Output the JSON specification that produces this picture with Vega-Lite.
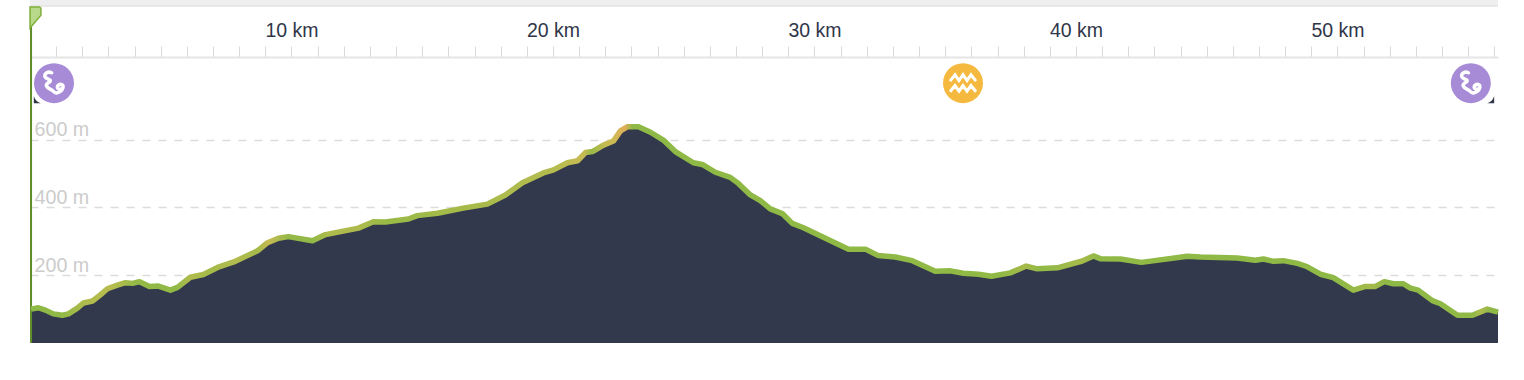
{
"$schema":"https://vega.github.io/schema/vega-lite/v6.json",
"width":1468,"height":343,
"autosize":"none",
"padding":{"left":30,"top":0,"right":26,"bottom":37},
"background":"white",
"config":{"view":{"stroke":null},"font":"Liberation Sans"},
"datasets":{
"profile":[
{"km":0.04,"el":100},{"km":0.32,"el":104},{"km":0.59,"el":97},{"km":0.89,"el":86},{"km":1.24,"el":82},{"km":1.47,"el":86},{"km":1.81,"el":103},{"km":2.04,"el":118},{"km":2.39,"el":124},{"km":2.69,"el":142},{"km":2.96,"el":160},{"km":3.34,"el":171},{"km":3.65,"el":178},{"km":3.92,"el":176},{"km":4.19,"el":181},{"km":4.57,"el":167},{"km":4.91,"el":168},{"km":5.37,"el":156},{"km":5.64,"el":164},{"km":6.13,"el":194},{"km":6.63,"el":202},{"km":7.17,"el":223},{"km":7.85,"el":241},{"km":8.7,"el":272},{"km":9.08,"el":296},{"km":9.5,"el":309},{"km":9.88,"el":314},{"km":10.8,"el":302},{"km":11.3,"el":320},{"km":12.56,"el":339},{"km":13.13,"el":358},{"km":13.59,"el":357},{"km":14.47,"el":366},{"km":14.81,"el":376},{"km":15.58,"el":383},{"km":16.57,"el":398},{"km":17.49,"el":410},{"km":18.18,"el":437},{"km":18.83,"el":473},{"km":19.63,"el":502},{"km":20.02,"el":511},{"km":20.55,"el":532},{"km":20.94,"el":538},{"km":21.24,"el":562},{"km":21.51,"el":565},{"km":21.93,"el":584},{"km":22.31,"el":596},{"km":22.58,"el":626},{"km":22.84,"el":638},{"km":23.27,"el":638},{"km":23.73,"el":622},{"km":24.22,"el":599},{"km":24.68,"el":565},{"km":25.37,"el":532},{"km":25.71,"el":527},{"km":26.21,"el":504},{"km":26.78,"el":489},{"km":27.09,"el":471},{"km":27.55,"el":437},{"km":27.93,"el":420},{"km":28.31,"el":396},{"km":28.77,"el":382},{"km":29.15,"el":353},{"km":29.58,"el":340},{"km":31.3,"el":277},{"km":31.95,"el":277},{"km":32.44,"el":258},{"km":33.09,"el":254},{"km":33.74,"el":243},{"km":34.62,"el":212},{"km":35.2,"el":213},{"km":35.69,"el":206},{"km":36.27,"el":203},{"km":36.77,"el":197},{"km":37.49,"el":207},{"km":38.1,"el":227},{"km":38.52,"el":219},{"km":39.29,"el":222},{"km":40.24,"el":242},{"km":40.67,"el":257},{"km":40.93,"el":249},{"km":41.7,"el":248},{"km":42.5,"el":238},{"km":44.26,"el":256},{"km":44.76,"el":254},{"km":46.17,"el":251},{"km":46.86,"el":244},{"km":47.17,"el":248},{"km":47.55,"el":241},{"km":47.93,"el":243},{"km":48.47,"el":235},{"km":48.85,"el":225},{"km":49.35,"el":203},{"km":49.84,"el":193},{"km":50.61,"el":156},{"km":51.07,"el":167},{"km":51.45,"el":167},{"km":51.79,"el":181},{"km":52.14,"el":175},{"km":52.52,"el":175},{"km":52.79,"el":162},{"km":53.09,"el":156},{"km":53.63,"el":125},{"km":53.94,"el":116},{"km":54.59,"el":82},{"km":55.16,"el":82},{"km":55.73,"el":100},{"km":56.14,"el":91}
],
"icons":[{"km":0.918,"el":767,"kind":"road"},{"km":35.68,"el":767,"kind":"water"},{"km":55.1,"el":767,"kind":"road"}]
},
"data":{"name":"profile"},
"layer":[
{"data":{"values":[{"km":0,"km2":56.14,"el":998.5,"el2":1012.4}]},"mark":{"type":"rect","color":"#efefef"},
 "encoding":{"x":{"field":"km","type":"quantitative","scale":{"domain":[0,56.14],"nice":false,"zero":false},
   "axis":{"orient":"top","offset":-57,"title":null,"tickCount":60,"values":[1,2,3,4,5,6,7,8,9,10,11,12,13,14,15,16,17,18,19,20,21,22,23,24,25,26,27,28,29,30,31,32,33,34,35,36,37,38,39,40,41,42,43,44,45,46,47,48,49,50,51,52,53,54,55,56],
   "labelExpr":"datum.value % 10 == 0 ? datum.value + ' km' : ''","labelFont":"Liberation Sans","labelFontSize":19.5,"labelColor":"#2f3649","labelBaseline":"alphabetic","labelPadding":10,"labelFlush":false,"labelOverlap":false,"labelBound":false,"tickSize":11,"tickColor":"#d9d9d9","tickWidth":1,"domainColor":"#e5e5e5","domainWidth":2,"grid":false}},
  "x2":{"field":"km2"},
  "y":{"field":"el","type":"quantitative","scale":{"domain":[0,1012.4],"nice":false,"zero":true},
   "axis":{"orient":"left","title":null,"values":[200,400,600],"labelExpr":"datum.value + ' m'","domain":false,"ticks":false,"tickSize":0,"labelAlign":"left","labelBaseline":"alphabetic","labelPadding":-4,"labelOffset":-4,"labelFont":"Liberation Sans","labelFontSize":19.7,"labelColor":"#cccccc","grid":true,"gridColor":"#dcdcdc","gridWidth":1.5,"gridDash":[8,8]}},
  "y2":{"field":"el2"}}},
{"data":{"values":[{"km":0,"km2":56.14,"el":992.6,"el2":998.5}]},"mark":{"type":"rect","color":"#e5e5e5"},
 "encoding":{"x":{"field":"km","type":"quantitative"},"x2":{"field":"km2"},"y":{"field":"el","type":"quantitative"},"y2":{"field":"el2"}}},
{"mark":{"type":"area","color":"#32394c"},
 "encoding":{"x":{"field":"km","type":"quantitative"},"y":{"field":"el","type":"quantitative"}}},
{"data":{"values":[{"km":0.04,"el":0,"el2":989}]},"mark":{"type":"rule","color":"#5f8c28","strokeWidth":2},
 "encoding":{"x":{"field":"km","type":"quantitative"},"y":{"field":"el","type":"quantitative"},"y2":{"field":"el2"}}},
{"mark":{"type":"line","strokeWidth":5.5,"strokeJoin":"round","strokeCap":"butt",
  "stroke":{"x1":0,"x2":1,"y1":0,"y2":0,"gradient":"linear","stops":[
  {"offset":0,"color":"#8fb946"},{"offset":0.02,"color":"#90b946"},{"offset":0.036,"color":"#aebb4c"},{"offset":0.053,"color":"#b8bc4f"},{"offset":0.063,"color":"#a8ba4a"},{"offset":0.07,"color":"#94b947"},{"offset":0.099,"color":"#90b946"},{"offset":0.108,"color":"#b0bb4e"},{"offset":0.122,"color":"#a3ba49"},{"offset":0.139,"color":"#b3bb4e"},{"offset":0.154,"color":"#a4ba4a"},{"offset":0.162,"color":"#c6bb52"},{"offset":0.175,"color":"#96b948"},{"offset":0.191,"color":"#8fb946"},{"offset":0.203,"color":"#aebb4c"},{"offset":0.223,"color":"#aebb4c"},{"offset":0.241,"color":"#98b947"},{"offset":0.257,"color":"#9cba48"},{"offset":0.278,"color":"#a3ba49"},{"offset":0.306,"color":"#a8ba4a"},{"offset":0.333,"color":"#b0bb4e"},{"offset":0.36,"color":"#b6bc4f"},{"offset":0.377,"color":"#c8bb53"},{"offset":0.382,"color":"#98b947"},{"offset":0.391,"color":"#c3bb52"},{"offset":0.398,"color":"#cdb955"},{"offset":0.405,"color":"#e0ae58"},{"offset":0.41,"color":"#8fb946"},{"offset":0.661,"color":"#90b946"},{"offset":0.678,"color":"#a6ba4a"},{"offset":0.688,"color":"#8fb946"},{"offset":0.715,"color":"#a6ba4a"},{"offset":0.729,"color":"#90b946"},{"offset":0.893,"color":"#8fb946"},{"offset":0.913,"color":"#a4ba49"},{"offset":0.924,"color":"#8fb946"},{"offset":0.983,"color":"#90b946"},{"offset":0.988,"color":"#acbb4c"},{"offset":0.995,"color":"#8fb946"},{"offset":1,"color":"#8fb946"}]}},
 "encoding":{"x":{"field":"km","type":"quantitative"},"y":{"field":"el","type":"quantitative"}}},
{"data":{"values":[{"km":0.28,"el":718}]},"mark":{"type":"point","filled":true,"opacity":1,"color":"#2f3649","size":49,"shape":"M -1 -1 L -1 1 L 1 1 Q -0.5 0.5 -1 -1 Z"},
 "encoding":{"x":{"field":"km","type":"quantitative"},"y":{"field":"el","type":"quantitative"}}},
{"data":{"values":[{"km":55.86,"el":718}]},"mark":{"type":"point","filled":true,"opacity":1,"color":"#2f3649","size":49,"shape":"M 1 -1 L 1 1 L -1 1 Q 0.5 0.5 1 -1 Z"},
 "encoding":{"x":{"field":"km","type":"quantitative"},"y":{"field":"el","type":"quantitative"}}},
{"data":{"name":"icons"},"transform":[{"filter":"datum.kind == 'road'"}],"mark":{"type":"circle","opacity":1,"color":"#a78bd6","size":1600},
 "encoding":{"x":{"field":"km","type":"quantitative"},"y":{"field":"el","type":"quantitative"}}},
{"data":{"name":"icons"},"transform":[{"filter":"datum.kind == 'water'"}],"mark":{"type":"circle","opacity":1,"color":"#f5b93f","size":1600},
 "encoding":{"x":{"field":"km","type":"quantitative"},"y":{"field":"el","type":"quantitative"}}},
{"data":{"name":"icons"},"transform":[{"filter":"datum.kind == 'road'"}],"mark":{"type":"point","filled":false,"opacity":1,"stroke":"white","strokeWidth":3.5,"strokeCap":"round","size":1600,
  "shape":"M -0.12 -0.52 C -0.35 -0.62 -0.55 -0.42 -0.42 -0.28 C -0.3 -0.16 -0.12 -0.2 -0.2 -0.08 C -0.3 0 -0.42 0.02 -0.38 0.14 C -0.32 0.3 -0.12 0.28 -0.02 0.42 C 0.1 0.58 0.4 0.42 0.45 0.22 C 0.48 0.05 0.28 0.02 0.2 0.12 C 0.12 0.24 0.22 0.32 0.32 0.3"},
 "encoding":{"x":{"field":"km","type":"quantitative"},"y":{"field":"el","type":"quantitative"}}},
{"data":{"name":"icons"},"transform":[{"filter":"datum.kind == 'water'"}],"mark":{"type":"point","filled":false,"opacity":1,"stroke":"white","strokeWidth":3,"size":1600,
  "shape":"M -0.65 -0.1 L -0.4 -0.42 L -0.2 -0.13 L 0 -0.42 L 0.2 -0.13 L 0.4 -0.42 L 0.65 -0.1 M -0.65 0.43 L -0.4 0.12 L -0.2 0.4 L 0 0.12 L 0.2 0.4 L 0.4 0.12 L 0.65 0.43"},
 "encoding":{"x":{"field":"km","type":"quantitative"},"y":{"field":"el","type":"quantitative"}}},
{"data":{"values":[{"km":0.21,"el":961}]},"mark":{"type":"point","filled":true,"opacity":1,"fill":"#b8d98a","stroke":"#7fb03a","strokeWidth":1.5,"size":441,
  "shape":"M -0.52 -1 L 0.3 -1 Q 0.52 -1 0.52 -0.8 L 0.52 -0.2 L -0.52 1 Z"},
 "encoding":{"x":{"field":"km","type":"quantitative"},"y":{"field":"el","type":"quantitative"}}}
]
}
